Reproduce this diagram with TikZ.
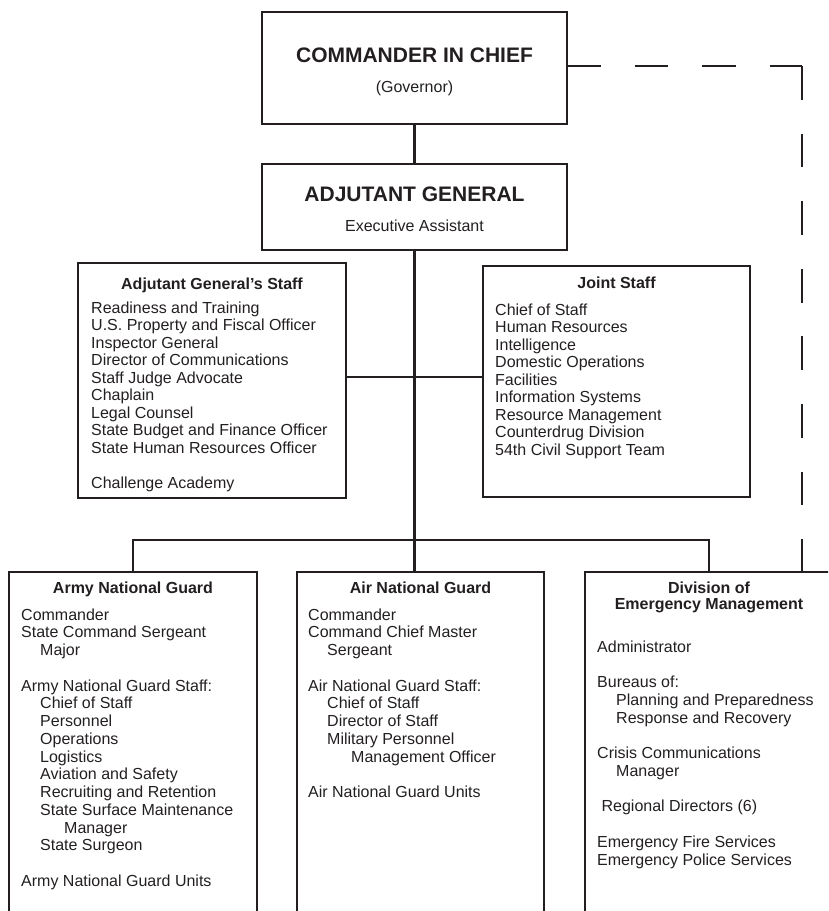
\documentclass[tikz,border=0pt]{standalone}
\usepackage{fontspec}
\setmainfont{Liberation Sans}
\definecolor{ink}{HTML}{231F20}
\newcommand{\myinda}{\hspace*{19pt}}
\newcommand{\myindb}{\hspace*{43pt}}
\begin{document}
\begin{tikzpicture}[x=1pt,y=-1pt,
  box/.style={draw=ink, line width=2.6pt, rectangle, inner sep=0pt, outer sep=0pt, anchor=north west},
  conn/.style={draw=ink, line width=2.2pt},
  dashln/.style={draw=ink, line width=2.2pt, dash pattern=on 33.8pt off 33.8pt},
  bigttl/.style={font=\fontsize{21}{24}\selectfont\bfseries, text=ink, inner sep=0pt, anchor=base},
  ttl/.style={font=\fontsize{16}{16}\selectfont\bfseries, text=ink, inner sep=0pt, anchor=base},
  sub/.style={font=\fontsize{16}{18}\selectfont, text=ink, inner sep=0pt, anchor=base},
  txt/.style={font=\fontsize{16}{17.55}\selectfont, text=ink, inner sep=0pt, anchor=base west},
  txtb/.style={font=\fontsize{16}{17.75}\selectfont, text=ink, inner sep=0pt, anchor=base west},
]
\useasboundingbox (0,0) rectangle (828,911);
\clip (0,0) rectangle (828,911);

% boxes
\node[box, minimum width=305pt, minimum height=112pt] (cic) at (262,12) {};
\node[box, minimum width=305pt, minimum height=86pt] (ag) at (262,164) {};
\node[box, minimum width=268pt, minimum height=235pt] (ags) at (78,263) {};
\node[box, minimum width=267pt, minimum height=231pt] (js) at (483,266) {};
\node[box, minimum width=248pt, minimum height=420pt] (army) at (9,572) {};
\node[box, minimum width=247pt, minimum height=420pt] (air) at (297,572) {};
\node[box, minimum width=248pt, minimum height=420pt] (em) at (585,572) {};

% connectors
\coordinate (mid) at (414,377);
\coordinate (bus) at (414,540);
\coordinate (corner) at (802,66);
\draw[conn] (cic.south) -- (ag.north);
\draw[conn] (ag.south) -- (ag.south |- air.north);
\draw[conn] (ags.east |- mid) -- (js.west |- mid);
\draw[conn] (army.north) |- (bus) -| (em.north);
\draw[dashln] (cic.east |- corner) -- (corner);
\draw[dashln] (corner) -- (corner |- em.north);

% texts
\node[bigttl] (cicttl) at (414.5,62.5) {COMMANDER IN CHIEF};
\node[sub] (cicsub) at (414.5,92.5) {(Governor)};
\node[bigttl] (agttl) at (414.5,201.5) {ADJUTANT GENERAL};
\node[sub] (agsub) at (414.5,231) {Executive Assistant};

\node[ttl] (agsttl) at (212,289) {Adjutant General's Staff};
\node[txt] (agslist) at (91,313) {\begin{tabular}[t]{@{}l@{}}
Readiness and Training\\
U.S. Property and Fiscal Officer\\
Inspector General\\
Director of Communications\\
Staff Judge Advocate\\
Chaplain\\
Legal Counsel\\
State Budget and Finance Officer\\
State Human Resources Officer\\
\\
Challenge Academy
\end{tabular}};

\node[ttl] (jsttl) at (616.5,288) {Joint Staff};
\node[txt] (jslist) at (495,315) {\begin{tabular}[t]{@{}l@{}}
Chief of Staff\\
Human Resources\\
Intelligence\\
Domestic Operations\\
Facilities\\
Information Systems\\
Resource Management\\
Counterdrug Division\\
54th Civil Support Team
\end{tabular}};

\node[ttl] (armyttl) at (133,593) {Army National Guard};
\node[txtb] (armylist) at (21,620) {\begin{tabular}[t]{@{}l@{}}
Commander\\
State Command Sergeant\\
\myinda Major\\
\\
Army National Guard Staff:\\
\myinda Chief of Staff\\
\myinda Personnel\\
\myinda Operations\\
\myinda Logistics\\
\myinda Aviation and Safety\\
\myinda Recruiting and Retention\\
\myinda State Surface Maintenance\\
\myindb Manager\\
\myinda State Surgeon\\
\\
Army National Guard Units
\end{tabular}};

\node[ttl] (airttl) at (420.5,593) {Air National Guard};
\node[txtb] (airlist) at (308,620) {\begin{tabular}[t]{@{}l@{}}
Commander\\
Command Chief Master\\
\myinda Sergeant\\
\\
Air National Guard Staff:\\
\myinda Chief of Staff\\
\myinda Director of Staff\\
\myinda Military Personnel\\
\myindb Management Officer\\
\\
Air National Guard Units
\end{tabular}};

\node[ttl] (emttl) at (709,593) {\begin{tabular}[t]{@{}c@{}}Division of\\Emergency Management\end{tabular}};
\node[txtb] (emlist) at (597,652) {\begin{tabular}[t]{@{}l@{}}
Administrator\\
\\
Bureaus of:\\
\myinda Planning and Preparedness\\
\myinda Response and Recovery\\
\\
Crisis Communications\\
\myinda Manager\\
\\
\hspace*{4.4pt}Regional Directors (6)\\
\\
Emergency Fire Services\\
Emergency Police Services
\end{tabular}};
\end{tikzpicture}
\end{document}
